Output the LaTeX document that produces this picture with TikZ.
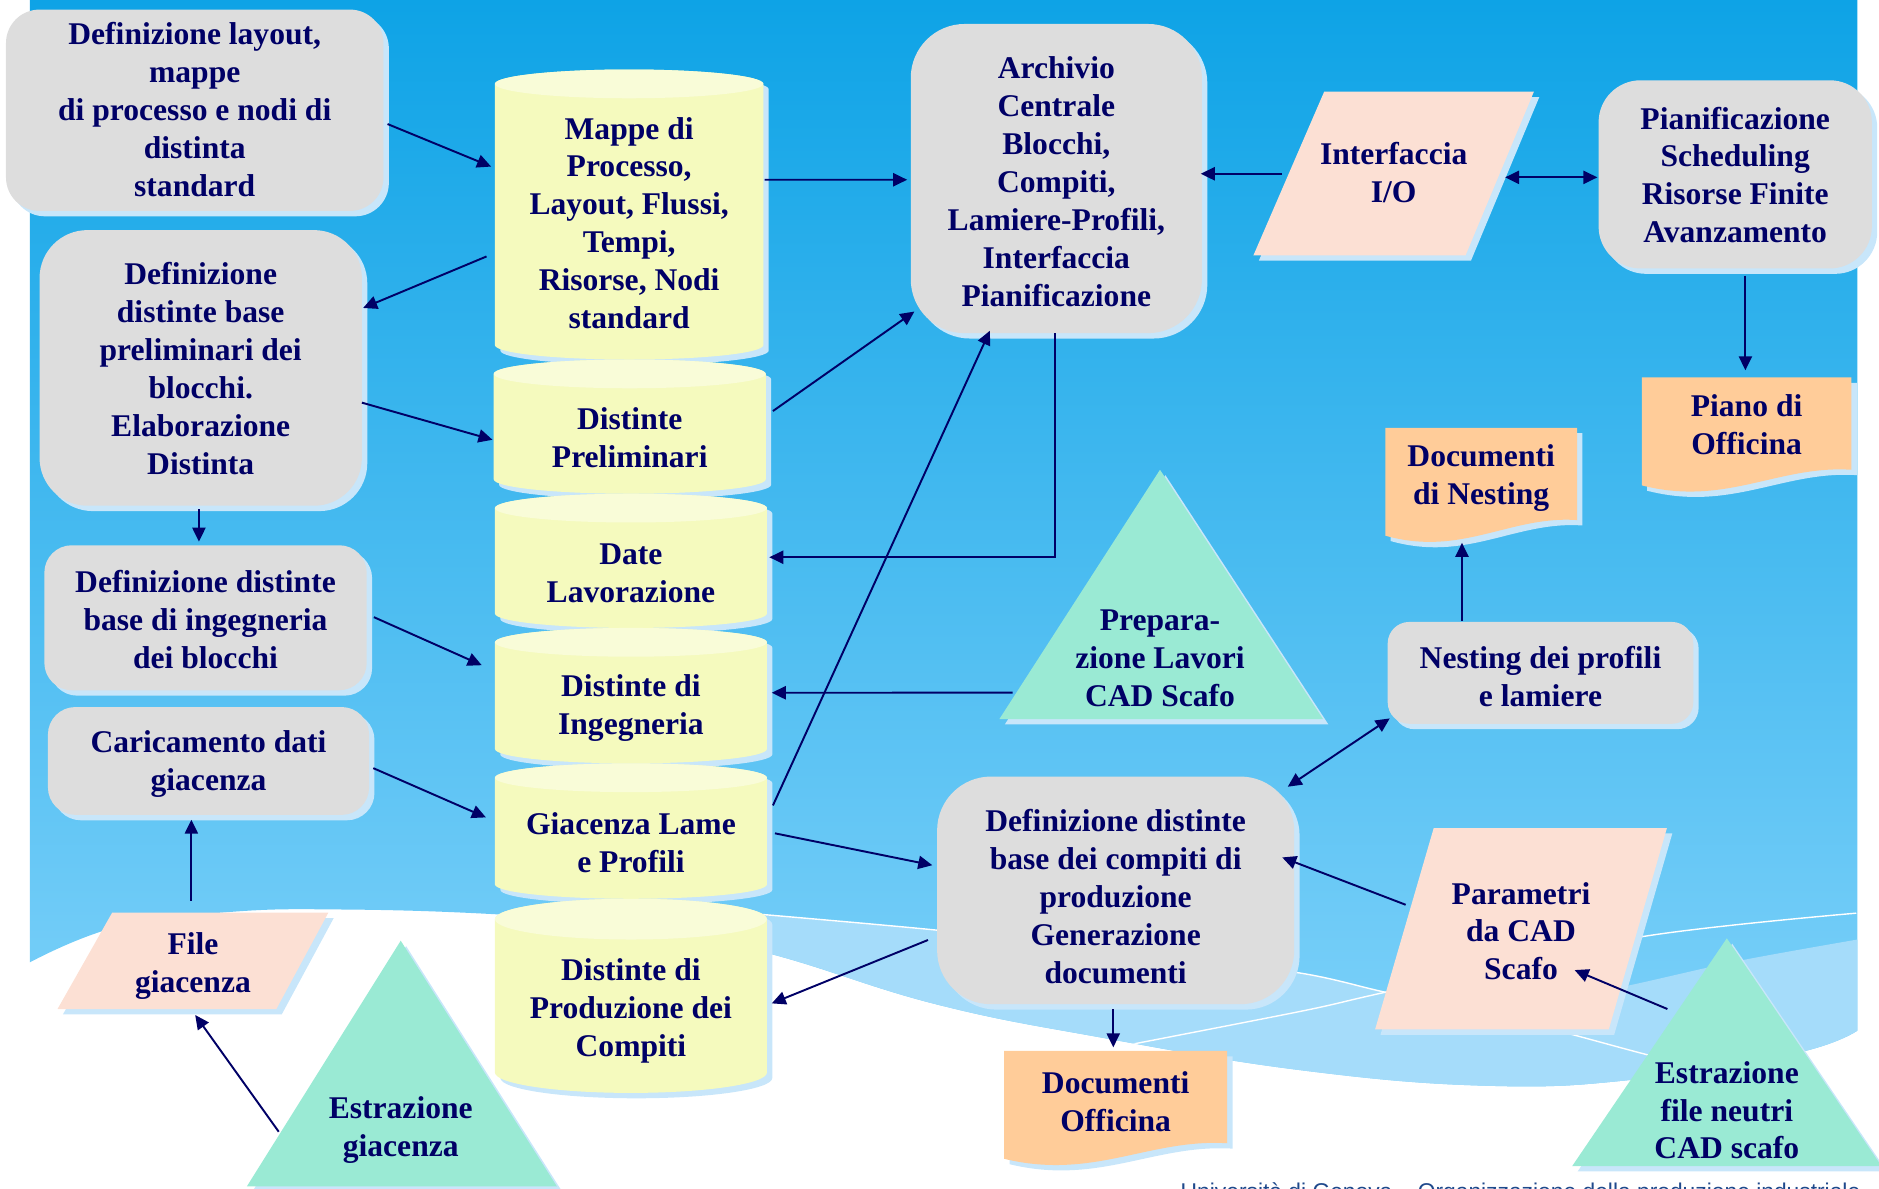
\documentclass[tikz,border=0pt]{standalone}
\usepackage{fontspec}
\setmainfont{Liberation Serif}
\setsansfont{Liberation Sans}
\usetikzlibrary{arrows.meta,calc,fit,shadows}

\definecolor{ink}{RGB}{0,0,102}
\definecolor{boxgray}{RGB}{221,221,221}
\definecolor{shadowblue}{RGB}{200,230,250}
\definecolor{drumbody}{RGB}{245,250,190}
\definecolor{drumtop}{RGB}{249,252,216}
\definecolor{parafill}{RGB}{252,224,212}
\definecolor{docfill}{RGB}{255,204,153}
\definecolor{trifill}{RGB}{154,234,212}
\definecolor{skytop}{RGB}{14,163,230}
\definecolor{skybot}{RGB}{128,210,250}
\definecolor{swoosh}{RGB}{165,220,250}
\definecolor{footblue}{RGB}{31,73,140}

\tikzset{
  lbl/.style={font=\fontsize{18}{21.6}\selectfont\bfseries, text=ink, align=center,
              inner sep=0pt, outer sep=0pt},
  frame/.style={inner sep=0pt, outer sep=0pt},
  gbox/.style={frame, fill=boxgray,
               drop shadow={shadow xshift=0.108cm, shadow yshift=-0.108cm, opacity=1,
                            fill=shadowblue}},
  >={Triangle[length=8pt,width=7.5pt]},
  flow/.style={draw=ink, line width=1.1pt, ->},
  flowboth/.style={draw=ink, line width=1.1pt, <->},
}

% database drum: name, left, right, top centre y, bottom centre y, y radius, text shift, text
\newcommand\drum[8]{%
  \pgfmathsetmacro\dmcx{(#2+#3)/2}%
  \pgfmathsetmacro\dmk{0.5523*(#3-#2)/2}%
  \pgfmathsetmacro\dmky{0.5523*#6}%
  \foreach \dmoff/\dmcol in {4.5/shadowblue,0/drumbody}{%
    \fill[\dmcol, shift={(\dmoff,\dmoff)}] (#2,#4) -- (#2,#5)
      .. controls (#2,{#5+\dmky}) and ({\dmcx-\dmk},{#5+#6}) .. (\dmcx,{#5+#6})
      .. controls ({\dmcx+\dmk},{#5+#6}) and (#3,{#5+\dmky}) .. (#3,#5)
      -- (#3,#4)
      .. controls (#3,{#4-\dmky}) and ({\dmcx+\dmk},{#4-#6}) .. (\dmcx,{#4-#6})
      .. controls ({\dmcx-\dmk},{#4-#6}) and (#2,{#4-\dmky}) .. (#2,#4) -- cycle;
  }
  \fill[drumtop] (\dmcx,#4) ellipse [x radius={(#3-#2)/2}, y radius=#6];
  \node[frame, fit={(#2,{#4+0.8*#6}) (#3,{#5+0.8*#6})}] (#1) {};
  \node[lbl] (#1-text) at ($(#1.center)+(0,#7)$) {#8};
}

% data slab (parallelogram): name, top-left x, top-right x, top y, bottom-left x, bottom-right x, bottom y, text shift, text
\newcommand\slab[9]{%
  \fill[shadowblue, shift={(4.5,4.5)}] (#2,#4) -- (#3,#4) -- (#6,#7) -- (#5,#7) -- cycle;
  \fill[parafill] (#2,#4) -- (#3,#4) -- (#6,#7) -- (#5,#7) -- cycle;
  \node[frame, fit={(#5,#4) (#3,#7)}] (#1) {};
  \node[lbl] (#1-text) at ($(#1.center)+(0,#8)$) {#9};
}

% manual operation (triangle): name, apex x, apex y, base left x, base right x, base y, text centre y, text
\newcommand\peak[8]{%
  \fill[shadowblue, shift={(4.5,4.5)}] (#2,#3) -- (#5,#6) -- (#4,#6) -- cycle;
  \fill[trifill] (#2,#3) -- (#5,#6) -- (#4,#6) -- cycle;
  \node[lbl] (#1) at (#2,#7) {#8};
}

% printed document: name, left, right, top, bottom y at left, text centre y, text
\newcommand\sheet[7]{%
  \pgfmathsetmacro\shw{#3-#2}%
  \foreach \shoff/\shcol in {4.5/shadowblue,0/docfill}{%
    \fill[\shcol, shift={(\shoff,\shoff)}] (#2,#4) -- (#3,#4) -- (#3,{#5-13})
      .. controls ({#3-0.35*\shw},{#5-17}) and ({#2+0.4*\shw},{#5+18}) .. (#2,#5) -- cycle;
  }
  \node[frame, fit={(#2,#4) (#3,#5)}] (#1) {};
  \node[lbl] (#1-text) at ({(#2+#3)/2},#6) {#7};
}

\begin{document}
\begin{tikzpicture}[x=0.024cm, y=-0.024cm]
\useasboundingbox (0,0) rectangle (1568,992);

% sky panel with a wavy lower edge
\shade[top color=skytop, bottom color=skybot]
  (25,0) -- (1550,0) -- (1550,860)
  -- plot[smooth, tension=0.7] coordinates {(1550,860) (1498,879) (1362,901) (1239,906)
     (1085,893) (920,866) (781,838) (643,796) (530,772) (415,763) (290,759) (192,761)
     (96,774) (25,803)}
  -- cycle;

\begin{scope}
  \clip (25,0) -- (1550,0) -- (1550,860)
  -- plot[smooth, tension=0.7] coordinates {(1550,860) (1498,879) (1362,901) (1239,906)
     (1085,893) (920,866) (781,838) (643,796) (530,772) (415,763) (290,759) (192,761)
     (96,774) (25,803)}
  -- cycle;
  \fill[swoosh] plot[smooth] coordinates {(600,760) (780,776) (950,795) (1085,812)
     (1156,828) (1250,848) (1307,862) (1374,880) (1440,896)}
     -- (1440,960) -- (600,960) -- cycle;
  \fill[swoosh] plot[smooth] coordinates {(1300,832) (1356,823) (1450,802) (1550,784)}
     -- (1560,960) -- (1300,960) -- cycle;
  \draw[white, line width=0.8pt] plot[smooth] coordinates {(600,760) (780,776) (950,795)
     (1085,812) (1156,828) (1250,848) (1307,862) (1374,880) (1440,896)};
  \draw[white, line width=0.8pt] plot[smooth] coordinates {(900,880) (1085,844)
     (1156,828) (1368,782) (1549,762)};
\end{scope}

% footer line, cut by the lower edge
\begin{scope}
  \clip (0,0) rectangle (1568,992);
  \node[anchor=base west, inner sep=0pt, font=\sffamily\fontsize{13}{15}\selectfont,
        text=footblue] (foot) at (985,1001)
    {Università di Genova -- Organizzazione della produzione industriale};
\end{scope}

% left column of activities
\node[gbox, rounded corners=0.67cm, fit={(5,8) (320,176)}] (boxA) {};
\node[lbl] (boxA-text) at ($(boxA.center)+(0,-0.5)$)
  {Definizione layout,\\mappe\\di processo e nodi di\\distinta\\standard};
\node[gbox, rounded corners=0.96cm, fit={(33,192) (302,422)}] (boxB) {};
\node[lbl] (boxB-text) at ($(boxB.center)+(0,0.5)$)
  {Definizione\\distinte base\\preliminari dei\\blocchi.\\Elaborazione\\Distinta};
\node[gbox, rounded corners=0.55cm, fit={(37,455) (306,576)}] (boxC) {};
\node[lbl] (boxC-text) at ($(boxC.center)+(0,1.5)$)
  {Definizione distinte\\base di ingegneria\\dei blocchi};
\node[gbox, rounded corners=0.55cm, fit={(40,590) (308,680)}] (boxD) {};
\node[lbl] (boxD-text) at ($(boxD.center)+(0,2.5)$) {Caricamento dati\\giacenza};
\slab{fileG}{93.6}{274}{761.6}{48}{230.6}{842}{4}{File\\giacenza}
\peak{estrG}{334.4}{785}{206}{464.7}{990}{943}{Estrazione\\giacenza}

% stack of archives
\drum{cylA}{413}{637}{70}{288}{12}{-2.5}{Mappe di\\Processo,\\Layout, Flussi,\\Tempi,\\Risorse, Nodi\\standard}
\drum{cylB}{412}{639}{312}{400}{12}{-0.6}{Distinte\\Preliminari}
\drum{cylC}{413}{640}{424}{512}{12}{0.9}{Date\\Lavorazione}
\drum{cylD}{413}{640}{536}{625}{12}{0.4}{Distinte di\\Ingegneria}
\drum{cylE}{413}{640}{649}{738}{12}{0}{Giacenza Lame\\e Profili}
\drum{cylF}{413}{640}{767}{895}{17}{-1}{Distinte di\\Produzione dei\\Compiti}

% central archive and planning
\node[gbox, rounded corners=1.08cm, fit={(760,20) (1003,278)}] (arch) {};
\node[lbl] (arch-text) at ($(arch.center)+(0,2.5)$)
  {Archivio\\Centrale\\Blocchi,\\Compiti,\\Lamiere-Profili,\\Interfaccia\\Pianificazione};
\slab{interf}{1105}{1280}{76.5}{1046}{1223}{213}{-1}{Interfaccia\\I/O}
\node[gbox, rounded corners=0.84cm, fit={(1334,67) (1562,224)}] (pian) {};
\node[lbl] (pian-text) at ($(pian.center)+(0,0.5)$)
  {Pianificazione\\Scheduling\\Risorse Finite\\Avanzamento};
\sheet{piano}{1370}{1545}{315}{405}{354.5}{Piano di\\Officina}
\sheet{docNest}{1156}{1316}{357}{447}{399}{Documenti\\di Nesting}

% CAD side
\peak{prep}{968}{392}{834}{1104}{600}{549.5}{Prepara-\\zione Lavori\\CAD Scafo}
\node[gbox, rounded corners=0.43cm, fit={(1158,519) (1413,604)}] (nest) {};
\node[lbl] (nest-text) at ($(nest.center)+(0,3)$) {Nesting dei profili\\e lamiere};
\node[gbox, rounded corners=1.08cm, fit={(782,648) (1080,838)}] (boxH) {};
\node[lbl] (boxH-text) at ($(boxH.center)+(0,5)$)
  {Definizione distinte\\base dei compiti di\\produzione\\Generazione\\documenti};
\sheet{docOff}{838}{1024}{877}{967}{919}{Documenti\\Officina}
\slab{param}{1196.4}{1391}{691}{1147.5}{1342.5}{859}{2}{Parametri\\da CAD\\Scafo}
\peak{estrF}{1441}{783}{1312}{1570}{973}{926.5}{Estrazione\\file neutri\\CAD scafo}

% connectors
\draw[flow] ($(boxA.east)+(3.4,11.5)$) -- ($(cylA.west)+(-3.2,-49.6)$);
\draw[flow] ($(cylA.west)+(-7,25.4)$) -- ($(boxB.east)+(1,-50)$);
\draw[flow] ($(boxB.east)+(0,29)$) -- ($(cylB.west)+(-1,1.4)$);
\draw[flow] ($(boxB.south)+(-1.5,3)$) -- ($(boxC.north)+(-5.5,-3)$);
\draw[flow] ($(boxC.east)+(6,-0.5)$) -- ($(cylD.west)+(-11,-35)$);
\draw[flow] ($(boxD.east)+(3.5,6)$) -- ($(cylE.west)+(-7.5,-21)$);
\draw[flow] ($(fileG.north)+(-1.3,-10)$) -- ($(boxD.south)+(-14.3,4)$);
\draw[flow] ($(estrG.center)+(-101.8,1.4)$) -- ($(fileG.south)+(1.9,5)$);
\draw[flow] ($(cylA.east)+(1,-38.6)$) -- ($(arch.west)+(-3,1)$);
\draw[flow] ($(cylB.east)+(6,-22.6)$) -- ($(arch.west)+(3,111)$);
\draw[flow] ($(arch.south)+(-1.5,0)$) |- ($(cylC.east)+(2,-12.6)$);
\draw[flow] ($(cylE.east)+(5,-31)$) -- ($(arch.south)+(-55.5,-2)$);
\draw[flow] ($(prep.center)+(-123,28.5)$) -- ($(cylD.east)+(4,-12)$);
\draw[flow] ($(cylE.east)+(6.7,-7.7)$) -- ($(boxH.west)+(-4,-21)$);
\draw[flow] ($(boxH.west)+(-7.6,41.4)$) -- ($(cylF.east)+(4,-7.3)$);
\draw[flow] ($(boxH.south)+(-2,4)$) -- ($(docOff.north)+(-2,-3)$);
\draw[flow] ($(param.center)+(-96.25,-20)$) -- ($(boxH.east)+(-10,-27.5)$);
\draw[flow] ($(estrF.center)+(-49.6,-84.5)$) -- ($(param.center)+(44.75,34.5)$);
\draw[flowboth] ($(boxH.north east)+(-5.4,8.5)$) -- ($(nest.south west)+(1.7,-4.5)$);
\draw[flow] ($(nest.north)+(-65.5,-1)$) -- ($(docNest.south)+(-16,6)$);
\draw[flow] ($(pian.south)+(8.5,6)$) -- ($(piano.north)+(-1,-6)$);
\draw[flow] ($(interf.center)+(-93,0.25)$) -- ($(arch.east)+(-1,-4)$);
\draw[flowboth] ($(interf.center)+(93,3.25)$) -- ($(pian.west)+(-1,2.5)$);

\end{tikzpicture}
\end{document}
